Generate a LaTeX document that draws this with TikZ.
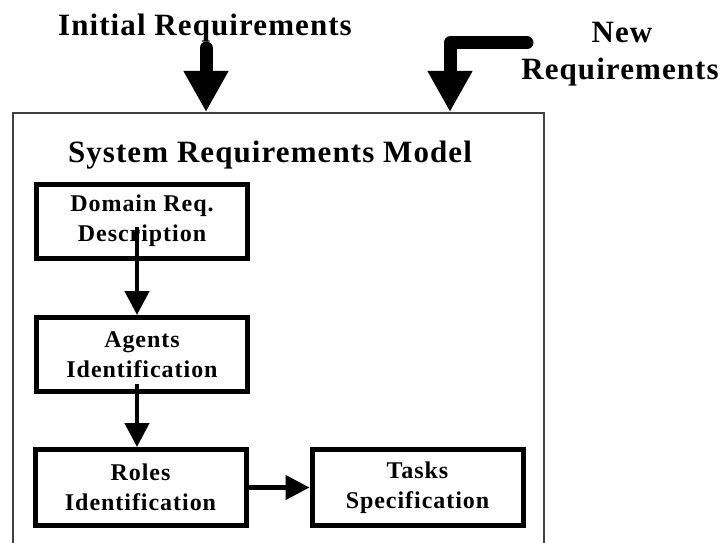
\documentclass[tikz,border=0pt]{standalone}
\usepackage{fontspec}
\setmainfont{Liberation Serif}
\newfontfamily\titlefont[LetterSpace=3.5]{Liberation Serif}
\newfontfamily\boxfont[LetterSpace=4]{Liberation Serif}
\usetikzlibrary{arrows.meta,calc}

\tikzset{
  title/.style={font=\titlefont\fontsize{31}{37}\selectfont\bfseries, inner sep=0pt, align=center},
  stepbox/.style={draw, line width=5pt, minimum width=211pt, minimum height=74pt,
    inner sep=0pt, align=center, font=\boxfont\fontsize{24}{30}\selectfont\bfseries},
  frame/.style={draw=black!75, line width=1.5pt},
  bigarrow/.style={line width=13pt, line cap=round,
    -{Triangle[length=41pt,width=42pt]}},
  flow/.style={line width=4.5pt, -{Triangle[length=24pt,width=24pt]}}
}

\begin{document}
\begin{tikzpicture}[x=1pt,y=-1pt]
  \useasboundingbox (0,0) rectangle (723,543);

  % outer model frame (runs past the lower edge)
  \node[frame, minimum width=531pt, minimum height=440pt, inner sep=0pt, anchor=north west]
    (sys) at (12,112) {};
  \node[title, anchor=base] (systitle) at (270,162) {System Requirements Model};

  % inputs
  \node[title, anchor=base] (init) at (205,36) {Initial Requirements};
  \node[title, anchor=base] (newreq) at (622,43) {New};
  \node[title, anchor=base] (newreq2) at (620,80) {Requirements};

  \coordinate (inStart) at (206,48);
  \coordinate (newStart) at (527,43);
  \coordinate (newBend) at (450,43);
  \draw[bigarrow] (inStart) -- (inStart |- sys.north);
  \draw[bigarrow, line join=round] (newStart) -- (newBend) -- (newBend |- sys.north);

  % process steps
  \node[stepbox] (dom) at (142,221) {Domain Req.\\Description};
  \node[stepbox] (agents) at (142,354.5) {Agents\\Identification};
  \node[stepbox, minimum height=76pt] (roles) at (140.5,487.5) {Roles\\Identification};
  \node[stepbox, minimum height=76pt] (tasks) at (417.5,487.5) {Tasks\\Specification};

  \coordinate (domOut) at ($(dom.center)+(-5,6)$);
  \coordinate (agOut) at ($(agents.south)+(-5,-10)$);
  \draw[flow] (domOut) -- (domOut |- agents.north);
  \draw[flow] (agOut) -- (agOut |- roles.north);
  \draw[flow] (roles.east) -- (tasks.west);
\end{tikzpicture}
\end{document}
